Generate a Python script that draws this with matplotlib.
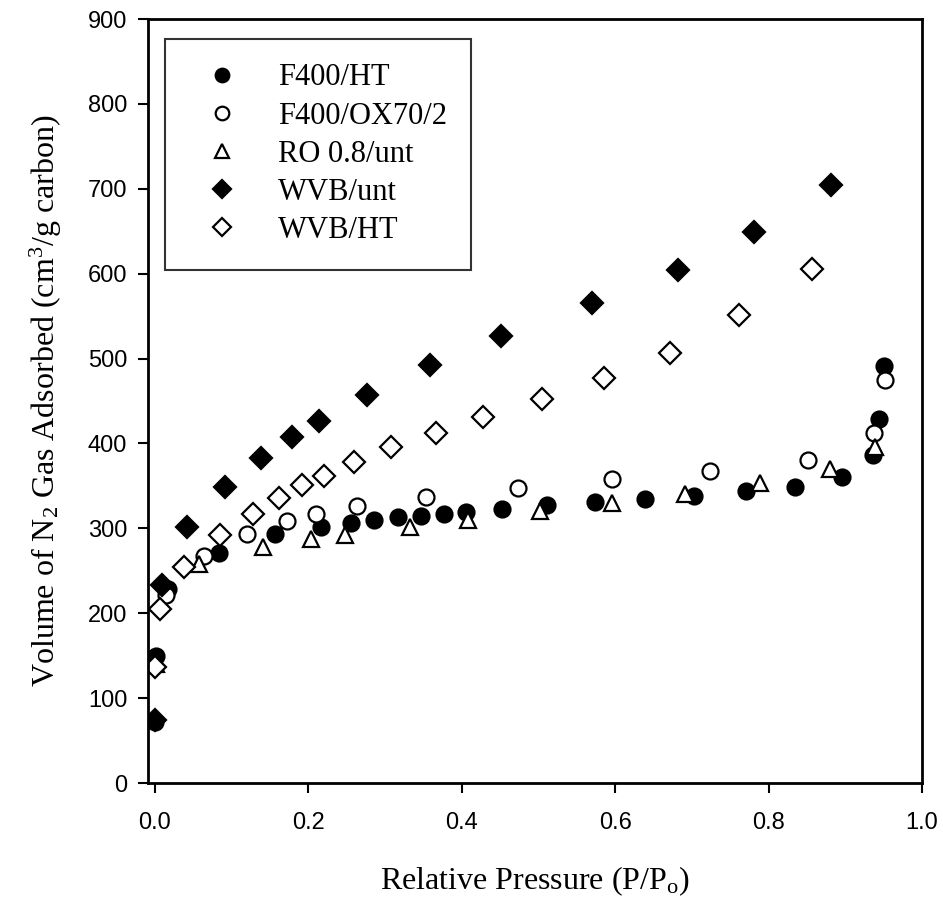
import matplotlib
matplotlib.use("Agg")
import matplotlib.pyplot as plt

plt.rcParams['mathtext.fontset'] = 'custom'
plt.rcParams['mathtext.rm'] = 'Liberation Serif'
plt.rcParams['mathtext.it'] = 'Liberation Serif:italic'

# F400/HT (filled circle)
f400ht_x = [0.0005, 0.001, 0.017, 0.083, 0.157, 0.216, 0.255, 0.286, 0.317, 0.347, 0.377,
            0.405, 0.453, 0.511, 0.574, 0.639, 0.703, 0.770, 0.834, 0.896, 0.936, 0.944, 0.951]
f400ht_y = [72, 150, 228, 271, 293, 302, 306, 310, 313, 315, 317,
            319, 323, 327, 331, 335, 338, 344, 349, 360, 386, 429, 491]

# F400/OX70/2 (open circle)
f400ox_x = [0.014, 0.064, 0.120, 0.172, 0.210, 0.263, 0.354, 0.473, 0.596, 0.723, 0.851, 0.937, 0.952]
f400ox_y = [222, 267, 293, 309, 317, 326, 337, 347, 358, 367, 381, 412, 475]

# RO 0.8/unt (open triangle)
ro_x = [0.001, 0.057, 0.141, 0.203, 0.248, 0.332, 0.408, 0.502, 0.596, 0.691, 0.789, 0.880, 0.939]
ro_y = [140, 258, 278, 288, 292, 302, 310, 320, 330, 341, 353, 370, 396]

# WVB/unt (filled diamond)
wvbu_x = [0.0, 0.009, 0.042, 0.091, 0.138, 0.179, 0.214, 0.276, 0.359, 0.451, 0.570, 0.682, 0.781, 0.881]
wvbu_y = [74, 233, 301, 349, 383, 408, 426, 457, 492, 526, 565, 604, 649, 704]

# WVB/HT (open diamond)
wvbh_x = [0.0, 0.006, 0.038, 0.085, 0.128, 0.162, 0.192, 0.220, 0.259, 0.308, 0.366,
          0.428, 0.505, 0.586, 0.671, 0.761, 0.856]
wvbh_y = [137, 205, 254, 292, 317, 336, 351, 362, 378, 396, 412,
          431, 452, 477, 507, 551, 605]

labels = ['F400/HT', 'F400/OX70/2', 'RO 0.8/unt', 'WVB/unt', 'WVB/HT']
x_ticks = [0.0, 0.2, 0.4, 0.6, 0.8, 1.0]
y_ticks = [0, 100, 200, 300, 400, 500, 600, 700, 800, 900]

fig = plt.figure(figsize=(9.43, 9.0), dpi=100)
ax = fig.add_axes([148/943, 1-783/900, (922-148)/943, (783-19)/900])

ms = 11.5
ax.plot(f400ht_x, f400ht_y, 'o', ms=ms, mfc='black', mec='black', mew=1.6, label=labels[0])
ax.plot(f400ox_x, f400ox_y, 'o', ms=ms, mfc='white', mec='black', mew=1.6, label=labels[1])
ax.plot(ro_x, ro_y, '^', ms=ms*1.05, mfc='white', mec='black', mew=1.6, label=labels[2])
ax.plot(wvbu_x, wvbu_y, 'D', ms=ms*0.95, mfc='black', mec='black', mew=1.6, label=labels[3])
ax.plot(wvbh_x, wvbh_y, 'D', ms=ms*0.95, mfc='white', mec='black', mew=1.6, label=labels[4])

ax.set_xlim(-0.009, 1.0)
ax.set_ylim(0, 900)
ax.set_xticks(x_ticks)
ax.set_xticklabels([f'{t:.1f}' for t in x_ticks])
ax.set_yticks(y_ticks)
ax.set_yticklabels([str(t) for t in y_ticks])
ax.tick_params(direction='out', length=7, width=1.5, labelsize=17)
ax.tick_params(axis='x', pad=14)
ax.tick_params(axis='y', pad=8)
for lab in ax.get_xticklabels() + ax.get_yticklabels():
    lab.set_fontfamily('Liberation Sans')
for s in ax.spines.values():
    s.set_linewidth(2)

ax.set_xlabel('Relative Pressure (P/P$_\\mathrm{o}$)', fontfamily='Liberation Serif', fontsize=23, labelpad=22)
ax.set_ylabel('Volume of N$_2$ Gas Adsorbed (cm$^3$/g carbon)', fontfamily='Liberation Serif', fontsize=23, labelpad=17)

leg = ax.legend(loc='upper left', bbox_to_anchor=(17/774, 1-20/764), frameon=True, fancybox=False,
                prop={'family': 'Liberation Serif', 'size': 22}, markerscale=0.85,
                handlelength=2.12, handletextpad=0.77, labelspacing=0.3, borderpad=0.8,
                borderaxespad=0)
leg.get_frame().set_edgecolor('black')
leg.get_frame().set_linewidth(1.5)

fig.savefig('out.png', dpi=100)
